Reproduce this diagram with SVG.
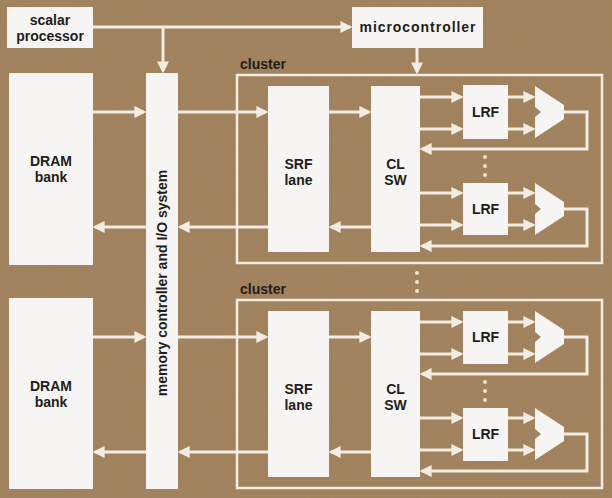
<svg xmlns="http://www.w3.org/2000/svg" width="612" height="498" viewBox="0 0 612 498">
<style>
.box{fill:#f6f5f3;}
.t{font-family:"Liberation Sans",Arial,sans-serif;font-size:14px;font-weight:bold;fill:#221d18;text-anchor:middle;}
.ln{fill:none;stroke:#f2ece2;stroke-width:3;stroke-linejoin:miter;}
.ar{marker-end:url(#ah);}
.cl{fill:none;stroke:#f2ece2;stroke-width:2.5;}
.dot{fill:#efe3c8;}
</style>
<defs>
<marker id="ah" markerWidth="4" markerHeight="4" refX="3.2" refY="2" orient="auto" markerUnits="strokeWidth">
<path d="M0,0 L4,2 L0,4 Z" fill="#f2ece2"/>
</marker>
<filter id="noise" x="0" y="0" width="100%" height="100%">
<feTurbulence type="fractalNoise" baseFrequency="0.9" numOctaves="2" seed="3"/>
<feColorMatrix type="matrix" values="0 0 0 0 0.35  0 0 0 0 0.27  0 0 0 0 0.18  0 0 0 0.9 -0.3"/>
</filter>
</defs>
<rect width="612" height="498" fill="#a2825d"/>
<rect width="612" height="498" filter="url(#noise)" opacity="0.5"/>

<g id="connectors">
<path class="ln ar" d="M93,27 H350"/>
<path class="ln ar" d="M163,27 V71"/>
<path class="ln ar" d="M417,48 V72"/>
<!-- cluster 1 -->
<path class="ln ar" d="M93,112 H144"/>
<path class="ln ar" d="M178,112 H266"/>
<path class="ln ar" d="M329,112 H369"/>
<path class="ln ar" d="M420,97 H461"/>
<path class="ln ar" d="M420,129 H461"/>
<path class="ln ar" d="M508,97 H533"/>
<path class="ln ar" d="M508,129 H533"/>
<path class="ln ar" d="M564,112 H587 V149 H422"/>
<path class="ln ar" d="M420,193 H461"/>
<path class="ln ar" d="M420,225 H461"/>
<path class="ln ar" d="M508,193 H533"/>
<path class="ln ar" d="M508,225 H533"/>
<path class="ln ar" d="M564,209 H587 V246 H422"/>
<path class="ln ar" d="M371,227 H331"/>
<path class="ln ar" d="M268,227 H180"/>
<path class="ln ar" d="M146,227 H95"/>
<!-- cluster 2 -->
<path class="ln ar" d="M93,337 H144"/>
<path class="ln ar" d="M178,337 H266"/>
<path class="ln ar" d="M329,337 H369"/>
<path class="ln ar" d="M420,322 H461"/>
<path class="ln ar" d="M420,354 H461"/>
<path class="ln ar" d="M508,322 H533"/>
<path class="ln ar" d="M508,354 H533"/>
<path class="ln ar" d="M564,337 H587 V374 H422"/>
<path class="ln ar" d="M420,418 H461"/>
<path class="ln ar" d="M420,450 H461"/>
<path class="ln ar" d="M508,418 H533"/>
<path class="ln ar" d="M508,450 H533"/>
<path class="ln ar" d="M564,434 H587 V471 H422"/>
<path class="ln ar" d="M371,452 H331"/>
<path class="ln ar" d="M268,452 H180"/>
<path class="ln ar" d="M146,452 H95"/>
</g>

<g id="scalar-processor">
<rect class="box" x="7" y="7" width="86" height="41"/>
<text class="t" x="50" y="25">scalar</text>
<text class="t" x="50" y="41">processor</text>
</g>
<g id="microcontroller">
<rect class="box" x="352" y="7" width="131" height="41"/>
<text class="t" x="417.5" y="32" textLength="116" lengthAdjust="spacing">microcontroller</text>
</g>
<g id="memory-controller">
<rect class="box" x="146" y="73" width="32" height="416"/>
<text class="t" transform="translate(167,283) rotate(-90)">memory controller and I/O system</text>
</g>
<g id="dram-1">
<rect class="box" x="9" y="73" width="84" height="192"/>
<text class="t" x="51" y="166">DRAM</text>
<text class="t" x="51" y="182">bank</text>
</g>
<g id="dram-2">
<rect class="box" x="9" y="298" width="84" height="191"/>
<text class="t" x="51" y="391">DRAM</text>
<text class="t" x="51" y="407">bank</text>
</g>

<g id="cluster-1">
<rect class="cl" x="237" y="75" width="365" height="188"/>
<text class="t" x="263" y="69">cluster</text>
<g id="srf-lane-1">
<rect class="box" x="268" y="86" width="61" height="166"/>
<text class="t" x="298.5" y="169">SRF</text>
<text class="t" x="298.5" y="185">lane</text>
</g>
<g id="cl-sw-1">
<rect class="box" x="371" y="86" width="49" height="166"/>
<text class="t" x="395.5" y="169">CL</text>
<text class="t" x="395.5" y="185">SW</text>
</g>
<g id="lrf-1">
<rect class="box" x="463" y="85" width="45" height="54"/>
<text class="t" x="485.5" y="117">LRF</text>
</g>
<g id="alu-1"><polygon class="box" points="535,86 564,105 564,119 535,138 535,117 541,112 535,107"/></g>
<g id="lrf-2">
<rect class="box" x="463" y="183" width="45" height="52"/>
<text class="t" x="485.5" y="214">LRF</text>
</g>
<g id="alu-2"><polygon class="box" points="535,183 564,202 564,216 535,235 535,214 541,209 535,204"/></g>
<circle class="dot" cx="485" cy="157" r="2"/>
<circle class="dot" cx="485" cy="166" r="2"/>
<circle class="dot" cx="485" cy="175" r="2"/>
</g>

<g id="cluster-2">
<rect class="cl" x="237" y="300" width="365" height="188"/>
<text class="t" x="263" y="294">cluster</text>
<g id="srf-lane-2">
<rect class="box" x="268" y="311" width="61" height="166"/>
<text class="t" x="298.5" y="394">SRF</text>
<text class="t" x="298.5" y="410">lane</text>
</g>
<g id="cl-sw-2">
<rect class="box" x="371" y="311" width="49" height="166"/>
<text class="t" x="395.5" y="394">CL</text>
<text class="t" x="395.5" y="410">SW</text>
</g>
<g id="lrf-3">
<rect class="box" x="463" y="311" width="45" height="53"/>
<text class="t" x="485.5" y="342">LRF</text>
</g>
<g id="alu-3"><polygon class="box" points="535,311 564,330 564,344 535,363 535,342 541,337 535,332"/></g>
<g id="lrf-4">
<rect class="box" x="463" y="408" width="45" height="53"/>
<text class="t" x="485.5" y="439">LRF</text>
</g>
<g id="alu-4"><polygon class="box" points="535,408 564,427 564,441 535,460 535,439 541,434 535,429"/></g>
<circle class="dot" cx="485" cy="382" r="2"/>
<circle class="dot" cx="485" cy="391" r="2"/>
<circle class="dot" cx="485" cy="400" r="2"/>
</g>

<g id="cluster-dots">
<circle class="dot" cx="417" cy="273" r="2"/>
<circle class="dot" cx="417" cy="282" r="2"/>
<circle class="dot" cx="417" cy="291" r="2"/>
</g>
</svg>
